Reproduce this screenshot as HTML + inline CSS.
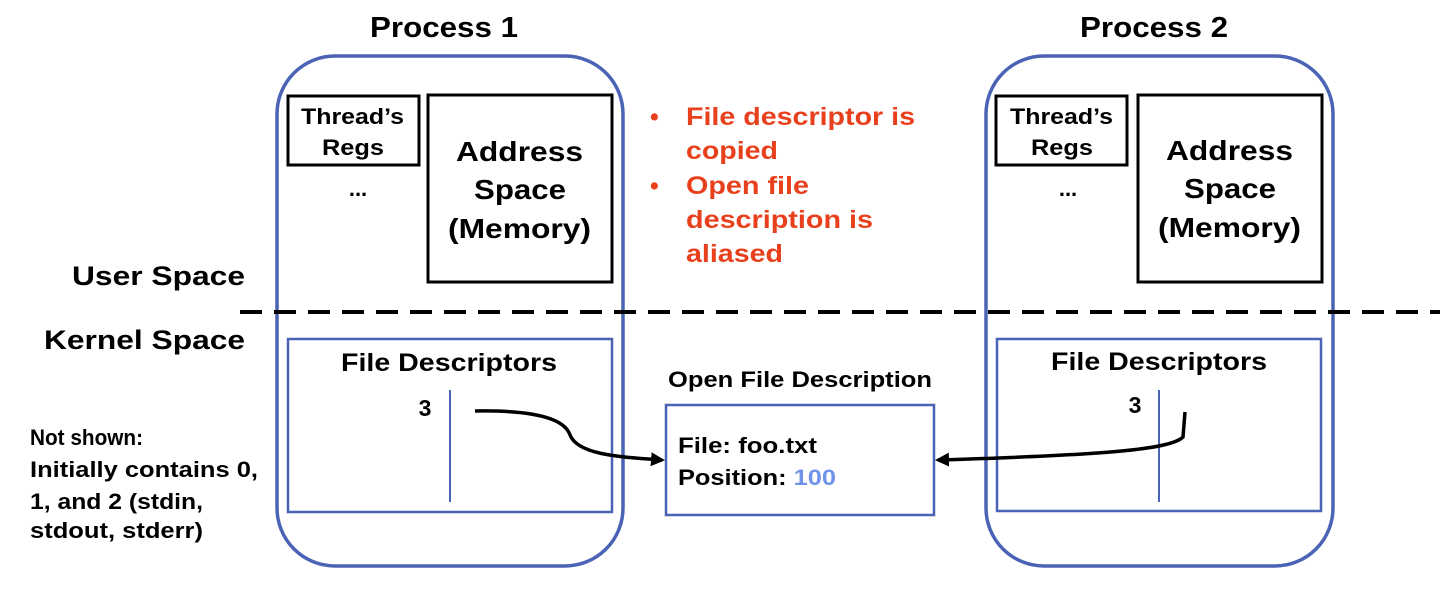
<!DOCTYPE html>
<html><head><meta charset="utf-8"><style>
html,body{margin:0;padding:0;background:#fff;width:1452px;height:602px;overflow:hidden}
svg text{font-family:"Liberation Sans",Arial,sans-serif;font-weight:bold}
</style></head><body>
<svg width="1452" height="602" viewBox="0 0 1452 602" xmlns="http://www.w3.org/2000/svg">
<defs><marker id="ah" markerWidth="14" markerHeight="14" refX="11" refY="7" orient="auto" markerUnits="userSpaceOnUse"><path d="M0,0 L14,7 L0,14 Z" fill="#000"/></marker></defs>
<g lengthAdjust="spacingAndGlyphs">
<text x="370" y="37" font-size="29" textLength="148" lengthAdjust="spacingAndGlyphs">Process 1</text>
<text x="1080" y="37" font-size="29" textLength="148" lengthAdjust="spacingAndGlyphs">Process 2</text>
</g>
<rect x="277" y="56" width="346" height="510" rx="58" fill="none" stroke="#4a63b5" stroke-width="3.5"/>
<rect x="986" y="56" width="347" height="510" rx="58" fill="none" stroke="#4a63b5" stroke-width="3.5"/>
<rect x="288" y="96" width="131" height="69" fill="none" stroke="#000" stroke-width="3"/>
<text x="301" y="124" font-size="22" textLength="103" lengthAdjust="spacingAndGlyphs">Thread’s</text>
<text x="322" y="155" font-size="22" textLength="62" lengthAdjust="spacingAndGlyphs">Regs</text>
<text x="358" y="196" font-size="22" text-anchor="middle">...</text>
<rect x="428" y="95" width="184" height="187" fill="none" stroke="#000" stroke-width="3"/>
<text x="456" y="161" font-size="28" textLength="127" lengthAdjust="spacingAndGlyphs">Address</text>
<text x="474" y="199" font-size="28" textLength="92" lengthAdjust="spacingAndGlyphs">Space</text>
<text x="448" y="238" font-size="28" textLength="143" lengthAdjust="spacingAndGlyphs">(Memory)</text>
<rect x="996" y="96" width="131" height="69" fill="none" stroke="#000" stroke-width="3"/>
<text x="1010" y="124" font-size="22" textLength="103" lengthAdjust="spacingAndGlyphs">Thread’s</text>
<text x="1031" y="155" font-size="22" textLength="62" lengthAdjust="spacingAndGlyphs">Regs</text>
<text x="1068" y="196" font-size="22" text-anchor="middle">...</text>
<rect x="1138" y="95" width="184" height="187" fill="none" stroke="#000" stroke-width="3"/>
<text x="1166" y="160" font-size="28" textLength="127" lengthAdjust="spacingAndGlyphs">Address</text>
<text x="1184" y="198" font-size="28" textLength="92" lengthAdjust="spacingAndGlyphs">Space</text>
<text x="1158" y="237" font-size="28" textLength="143" lengthAdjust="spacingAndGlyphs">(Memory)</text>
<g font-size="25" fill="#e8401c">
<text x="650" y="125">•</text><text x="686" y="125" textLength="229" lengthAdjust="spacingAndGlyphs">File descriptor is</text>
<text x="686" y="159" textLength="92" lengthAdjust="spacingAndGlyphs">copied</text>
<text x="650" y="194">•</text><text x="686" y="194" textLength="123" lengthAdjust="spacingAndGlyphs">Open file</text>
<text x="686" y="228" textLength="187" lengthAdjust="spacingAndGlyphs">description is</text>
<text x="686" y="262" textLength="97" lengthAdjust="spacingAndGlyphs">aliased</text>
</g>
<text x="72" y="285" font-size="27" textLength="173" lengthAdjust="spacingAndGlyphs">User Space</text>
<text x="44" y="349" font-size="27" textLength="201" lengthAdjust="spacingAndGlyphs">Kernel Space</text>
<line x1="240" y1="312" x2="1440" y2="312" stroke="#000" stroke-width="4" stroke-dasharray="22,12"/>
<rect x="288" y="339" width="324" height="173" fill="none" stroke="#4a63b5" stroke-width="2.5"/>
<text x="341" y="371" font-size="25" textLength="216" lengthAdjust="spacingAndGlyphs">File Descriptors</text>
<text x="425" y="416" font-size="23" text-anchor="middle">3</text>
<line x1="450" y1="390" x2="450" y2="502" stroke="#4a63b5" stroke-width="2"/>
<rect x="997" y="339" width="324" height="172" fill="none" stroke="#4a63b5" stroke-width="2.5"/>
<text x="1051" y="370" font-size="25" textLength="216" lengthAdjust="spacingAndGlyphs">File Descriptors</text>
<text x="1135" y="413" font-size="23" text-anchor="middle">3</text>
<line x1="1159" y1="390" x2="1159" y2="502" stroke="#4a63b5" stroke-width="2"/>
<text x="668" y="387" font-size="22" textLength="264" lengthAdjust="spacingAndGlyphs">Open File Description</text>
<rect x="666" y="405" width="268" height="110" fill="none" stroke="#4a63b5" stroke-width="2.5"/>
<text x="678" y="453" font-size="22" textLength="139" lengthAdjust="spacingAndGlyphs">File: foo.txt</text>
<text x="678" y="485" font-size="22" textLength="158" lengthAdjust="spacingAndGlyphs">Position: <tspan fill="#6f93e8">100</tspan></text>
<path d="M475,411 C540,410 565,420 570,435 C578,455 620,457 662,460" fill="none" stroke="#000" stroke-width="3.5" marker-end="url(#ah)"/>
<path d="M1185,412 L1183,437 C1170,450 1100,455 938,460" fill="none" stroke="#000" stroke-width="3.5" marker-end="url(#ah)"/>
<g font-size="22">
<text x="30" y="445" textLength="113" lengthAdjust="spacingAndGlyphs">Not shown:</text>
<text x="30" y="477" textLength="228" lengthAdjust="spacingAndGlyphs">Initially contains 0,</text>
<text x="30" y="509" textLength="173" lengthAdjust="spacingAndGlyphs">1, and 2 (stdin,</text>
<text x="30" y="538" textLength="173" lengthAdjust="spacingAndGlyphs">stdout, stderr)</text>
</g>
</svg>
</body></html>
